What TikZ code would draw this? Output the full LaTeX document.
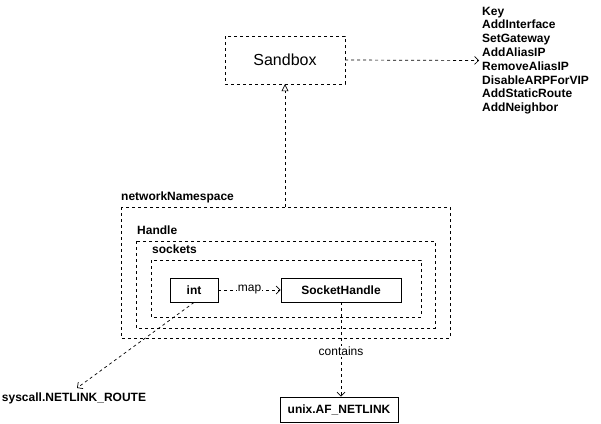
\documentclass[tikz,border=0pt]{standalone}
\usepackage{fontspec}
\setmainfont{Liberation Sans}
\usetikzlibrary{arrows.meta}
\tikzset{
  dsh/.style={draw, dash pattern=on 3pt off 3pt, line width=0.7pt},
  solidbox/.style={draw, line width=0.9pt, inner sep=0pt, font=\fontsize{12}{14}\selectfont\bfseries},
  lbl/.style={font=\fontsize{12}{14}\selectfont\bfseries, inner sep=0pt},
  openarr/.style={-{Straight Barb[length=4pt,width=8pt]}},
  inh/.style={-{Triangle[open,length=7pt,width=7pt]}},
}
\begin{document}
\begin{tikzpicture}[x=1pt,y=-1pt]
\useasboundingbox (0,0) rectangle (601,423);
% Sandbox
\draw[dsh] (225,36) rectangle (345,84);
\node (sandbox) at (285,60) [minimum width=120pt, minimum height=48pt, inner sep=0pt, font=\fontsize{16}{18}\selectfont] {Sandbox};
% key list
\node (keys) [anchor=west, align=left, lbl, font=\fontsize{12}{13.8}\selectfont\bfseries] at (482,60.5) {Key\\AddInterface\\SetGateway\\AddAliasIP\\RemoveAliasIP\\DisableARPForVIP\\AddStaticRoute\\AddNeighbor};
\draw[dsh, openarr] (sandbox.east) -- ([xshift=-3pt]keys.west);
% containers
\draw[dsh] (121,207) rectangle (450,338);
\coordinate (nstop) at (285,207);
\node[lbl, anchor=base west] (nslbl) at (121,200) {networkNamespace};
\draw[dsh] (136,241) rectangle (435,328);
\node[lbl, anchor=base west] (hlbl) at (137,234) {Handle};
\draw[dsh] (151,260) rectangle (421,317);
\node[lbl, anchor=base west] (slbl) at (152,253) {sockets};
\draw[dsh, inh] (nstop) -- (sandbox.south);
% int and SocketHandle
\node[solidbox, minimum width=48pt, minimum height=24pt] (int) at (194,290) {int};
\node[solidbox, minimum width=120pt, minimum height=24pt] (sh) at (341,290) {SocketHandle};
\draw[dsh, openarr] (int.east) -- node[fill=white, inner sep=1pt, font=\fontsize{12}{14}\selectfont] {map} (sh.west);
% unix
\node[solidbox, minimum width=118pt, minimum height=25pt] (unix) at (339,409.5) {unix.AF\_NETLINK};
\draw[dsh, openarr] (sh.south) -- node[pos=0.5, fill=white, inner sep=1pt, font=\fontsize{12}{14}\selectfont, yshift=-2pt] {contains} (sh.south |- unix.north);
% syscall
\node[lbl] (sys) at (74,398) {syscall.NETLINK\_ROUTE};
\coordinate (sysend) at (77,388);
\draw[dsh, openarr] (int.south) -- (sysend);
\end{tikzpicture}
\end{document}
